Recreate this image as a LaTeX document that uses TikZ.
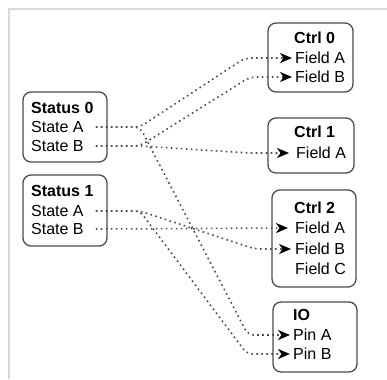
\documentclass[tikz,border=0pt]{standalone}
\usepackage{fontspec}
\setmainfont{Liberation Sans}
\usetikzlibrary{arrows.meta,calc}
\tikzset{
  rec/.style={draw=black!70, line width=1.3pt, rounded corners=8pt, fill=white, inner sep=0pt},
  txt/.style={inner sep=0pt, anchor=west, text height=11.5pt, text depth=0pt,
    font=\fontsize{16}{19}\selectfont},
  ttl/.style={txt, font=\fontsize{16}{19}\selectfont\bfseries},
  link/.style={draw=black!70, line width=1.6pt, dash pattern=on 1.6pt off 3.4pt,
    rounded corners=6pt, -{Stealth[length=12pt,width=10pt,inset=3.5pt,color=black]}},
  frame/.style={draw=black!15, line width=1.5pt}
}
\begin{document}
\begin{tikzpicture}[x=1pt,y=-1pt]
\useasboundingbox (0,0) rectangle (387,379);
% panel frame
\coordinate (fr1) at (387,9);
\coordinate (fr2) at (9,9);
\coordinate (fr3) at (9,379);
\draw[frame] (fr1) -- (fr2) -- (fr3);

% boxes
\node[rec, minimum width=84pt, minimum height=70pt] (s0) at (65,127) {};
\node[rec, minimum width=84pt, minimum height=71pt] (s1) at (65,210.5) {};
\node[rec, minimum width=85pt, minimum height=69pt] (c0) at (310.5,57.5) {};
\node[rec, minimum width=86pt, minimum height=55pt] (c1) at (311,145.5) {};
\node[rec, minimum width=84pt, minimum height=97pt] (c2) at (314,238.5) {};
\node[rec, minimum width=84pt, minimum height=70pt] (io) at (315,337) {};

% texts
\node[ttl] (s0t) at (31,108) {Status 0};
\node[txt] (s0a) at (31,127) {State A};
\node[txt] (s0b) at (31,146) {State B};
\node[ttl] (s1t) at (31,191) {Status 1};
\node[txt] (s1a) at (31,211) {State A};
\node[txt] (s1b) at (31,229) {State B};

\node[ttl] (c0t) at (294,38) {Ctrl 0};
\node[txt] (c0a) at (295,58) {Field A};
\node[txt] (c0b) at (295,77) {Field B};
\node[ttl] (c1t) at (294,132) {Ctrl 1};
\node[txt] (c1a) at (296,153) {Field A};
\node[ttl] (c2t) at (294,208) {Ctrl 2};
\node[txt] (c2a) at (295,228) {Field A};
\node[txt] (c2b) at (295,249) {Field B};
\node[txt] (c2c) at (295,269) {Field C};
\node[ttl] (iot) at (293,315) {IO};
\node[txt] (ioa) at (293,335) {Pin A};
\node[txt] (iob) at (293,354) {Pin B};

% ports
\coordinate (ps0a) at ($(s0a.east)+(12,0)$);
\coordinate (ps0b) at ($(s0b.east)+(12,0)$);
\coordinate (ps1a) at ($(s1a.east)+(12,0)$);
\coordinate (ps1b) at ($(s1b.east)+(12,0)$);
\coordinate (pc0a) at ($(c0a.west)+(-3,0)$);
\coordinate (pc0b) at ($(c0b.west)+(-3,0)$);
\coordinate (pc1a) at ($(c1a.west)+(-7,0)$);
\coordinate (pc2a) at ($(c2a.west)+(-7,0)$);
\coordinate (pc2b) at ($(c2b.west)+(-4,0)$);
\coordinate (pioa) at ($(ioa.west)+(-3,0)$);
\coordinate (piob) at ($(iob.west)+(-3,0)$);

% links
\draw[link] (ps0a) -- ++(44,0) -- ($(pc0a)+(-47,0)$) -- (pc0a);
\draw[link] (ps0b) -- ++(44,0) -- ($(pc0b)+(-42,0)$) -- (pc0b);
\draw[link] (ps0b) -- ++(44,0) -- ($(pc1a)+(-40,0)$) -- (pc1a);
\draw[link] (ps0a) -- ++(44,0) -- ($(pioa)+(-42,0)$) -- (pioa);
\draw[link] (ps1a) -- ++(44,0) -- ($(pc2b)+(-36,0)$) -- (pc2b);
\draw[link] (ps1a) -- ++(44,0) -- ($(piob)+(-43,0)$) -- (piob);
\draw[link] (ps1b) -- (pc2a);
\end{tikzpicture}
\end{document}
